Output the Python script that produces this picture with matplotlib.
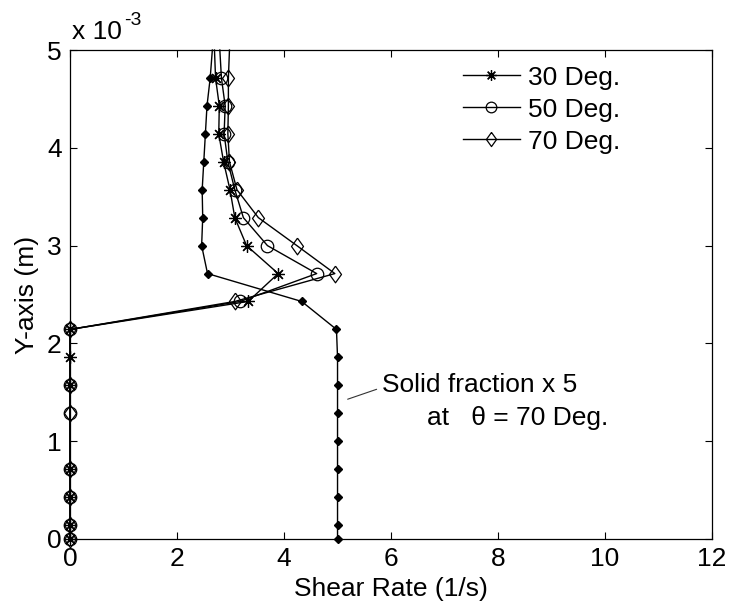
import matplotlib
matplotlib.use("Agg")
import matplotlib.pyplot as plt
import numpy as np
from matplotlib.ticker import FuncFormatter, MultipleLocator

plt.rcParams['font.family'] = ['Liberation Sans', 'DejaVu Sans']

# y positions (m), in units of 1e-3
y_mm = [0.0, 0.143, 0.429, 0.714, 1.000, 1.286, 1.571, 1.857, 2.143, 2.429,
        2.714, 3.000, 3.286, 3.571, 3.857, 4.143, 4.429, 4.714, 5.000]
y_m = np.array(y_mm) * 1e-3

shear_30 = [0, 0, 0, 0, 0, 0, 0, 0, 0, 3.33, 3.89, 3.30, 3.08, 2.99, 2.87, 2.78, 2.79, 2.72, 2.70]
shear_50 = [0, 0, 0, 0, 0, 0, 0, 0, 0, 3.18, 4.61, 3.69, 3.24, 3.08, 2.95, 2.88, 2.90, 2.83, 2.80]
shear_70 = [0, 0, 0, 0, 0, 0, 0, 0, 0, 3.08, 4.95, 4.24, 3.52, 3.12, 2.98, 2.95, 2.96, 2.96, 2.98]
solid_x5 = [5.0, 5.0, 5.0, 5.0, 5.0, 5.0, 5.0, 5.0, 4.98, 4.33, 2.57, 2.46, 2.48, 2.47, 2.50, 2.53, 2.56, 2.62, 2.66]

marks_30 = [0, 1, 2, 3, 6, 7, 8, 9, 10, 11, 12, 13, 14, 15, 16, 17]
marks_50_70 = [0, 1, 2, 3, 5, 6, 8, 9, 10, 11, 12, 13, 14, 15, 16, 17]
marks_solid = list(range(18))

labels = ['30 Deg.', '50 Deg.', '70 Deg.']

FS = 19
fig = plt.figure(figsize=(7.34, 6.10), dpi=100)
ax = fig.add_axes([0.0954, 0.1164, 0.8747, 0.8016])

diamond = [(0, 1), (0.72, 0), (0, -1), (-0.72, 0), (0, 1)]
lw = 1.0
ax.plot(solid_x5, y_m, color='black', lw=lw, marker='D', ms=4.5,
        markevery=marks_solid, mfc='black', mec='black', clip_on=False, zorder=3)
l30, = ax.plot(shear_30, y_m, color='black', lw=lw, marker=(8, 2, 0), ms=9,
               markevery=marks_30, mew=0.9, label=labels[0], clip_on=False, zorder=3)
l50, = ax.plot(shear_50, y_m, color='black', lw=lw, marker='o', ms=9,
               markevery=marks_50_70, mfc='none', mew=0.9, label=labels[1],
               clip_on=False, zorder=3)
l70, = ax.plot(shear_70, y_m, color='black', lw=lw, marker=diamond, ms=12,
               markevery=marks_50_70, mfc='none', mew=0.9, label=labels[2],
               clip_on=False, zorder=3)

ax.set_xlim(0, 12)
ax.set_ylim(0, 5e-3)
ax.xaxis.set_major_locator(MultipleLocator(2))
ax.yaxis.set_major_locator(MultipleLocator(1e-3))
ax.yaxis.set_major_formatter(FuncFormatter(lambda v, p: f"{v*1e3:g}"))
ax.tick_params(direction='in', length=5, width=0.8, top=True, right=True,
               labelsize=FS, pad=6)
for s in ax.spines.values():
    s.set_linewidth(0.9)

ax.set_xlabel('Shear Rate (1/s)', fontsize=FS, labelpad=4)
ax.set_ylabel('Y-axis (m)', fontsize=FS, labelpad=6)
ax.text(0.003, 1.012, 'x 10', transform=ax.transAxes,
        fontsize=FS, ha='left', va='bottom')
ax.text(0.084, 1.043, '-3', transform=ax.transAxes,
        fontsize=14, ha='left', va='bottom')

leg = ax.legend(handles=[l30, l50, l70], loc='upper left',
                bbox_to_anchor=(0.612, 0.968), frameon=False, fontsize=FS,
                handlelength=2.15, handletextpad=0.3, labelspacing=0.3,
                borderpad=0, borderaxespad=0, markerscale=0.85)

ax.annotate('', xy=(5.14, 1.42e-3), xytext=(5.78, 1.54e-3),
            arrowprops=dict(arrowstyle='-', lw=0.8, color='#333333'))
ax.text(5.83, 1.575e-3, 'Solid fraction x 5', fontsize=FS, ha='left', va='center')
ax.text(6.67, 1.237e-3, 'at   \u03b8 = 70 Deg.', fontsize=FS, ha='left', va='center')

fig.savefig('out.png', dpi=100)
